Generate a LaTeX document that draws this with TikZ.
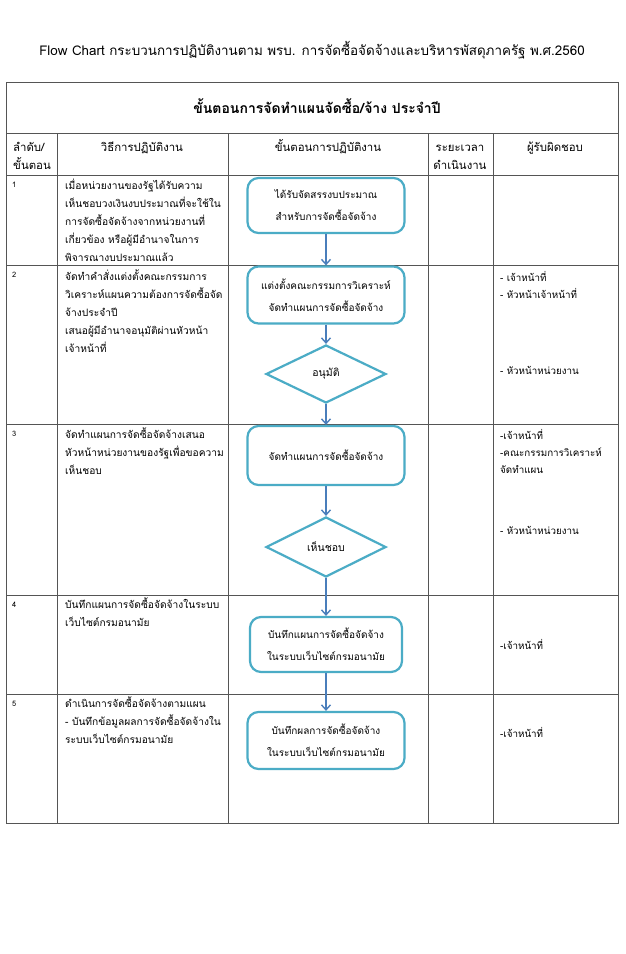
\documentclass[tikz,border=0pt]{standalone}
\usepackage{fontspec}
\newfontfamily\thai[Script=Thai]{Loma}
\usetikzlibrary{shapes.geometric,arrows.meta}
\definecolor{boxc}{HTML}{4BACC6}
\definecolor{arrc}{HTML}{4A7EBB}
\definecolor{gridc}{HTML}{555555}
\newcommand\tleft[1]{\begin{tabular}[t]{@{}l@{}}#1\end{tabular}}
\newcommand\tcent[1]{\begin{tabular}[t]{@{}c@{}}#1\end{tabular}}
\begin{document}
\begin{tikzpicture}[x=1pt,y=-1pt,
  tbl/.style={draw=gridc,line width=1},
  fbox/.style={draw=boxc,line width=2.2,rounded corners=11,minimum width=157,minimum height=56,align=center,inner sep=2,fill=white,font=\thai\fontsize{10}{22}\selectfont},
  fdia/.style={diamond,draw=boxc,line width=2.2,minimum width=120,minimum height=58,inner sep=0,fill=white,font=\thai\fontsize{10.5}{12}\selectfont},
  arr/.style={draw=arrc,line width=1.4,-{Straight Barb[length=5pt,width=9pt]}},
  cell/.style={anchor=base west,inner sep=0,font=\thai\fontsize{10.2}{18.2}\selectfont},
  resp/.style={anchor=base west,inner sep=0,font=\thai\fontsize{9.8}{17}\selectfont},
  hdrl/.style={anchor=base west,inner sep=0,font=\thai\fontsize{11.4}{18}\selectfont},
  hdr/.style={anchor=base,inner sep=0,font=\thai\fontsize{11.4}{18}\selectfont},
  num/.style={anchor=base west,inner sep=0,font=\thai\fontsize{7.5}{10}\selectfont}]
\fill[white] (0,0) rectangle (625,954);
\useasboundingbox (0,0) rectangle (625,954);
% title
\node[anchor=base,inner sep=0,font=\thai\fontsize{13.4}{16}\selectfont] (title) at (312,55) {Flow Chart กระบวนการปฏิบัติงานตาม พรบ. การจัดซื้อจัดจ้างและบริหารพัสดุภาครัฐ พ.ศ.2560};
% table
\draw[tbl] (6,82) rectangle (618,823);
\foreach \y in {133,175,265,424,595,694} \draw[tbl] (6,\y) -- (618,\y);
\foreach \x in {57,228,428,493} \draw[tbl] (\x,133) -- (\x,823);
\node[anchor=base,inner sep=0,font=\thai\bfseries\fontsize{14}{16}\selectfont] (head) at (317,113) {ขั้นตอนการจัดทำแผนจัดซื้อ/จ้าง ประจำปี};
% header row
\node[hdrl] (h1) at (13,151) {\tleft{ลำดับ/\\ขั้นตอน}};
\node[hdr] (h2) at (142,151) {วิธีการปฏิบัติงาน};
\node[hdr] (h3) at (328,151) {ขั้นตอนการปฏิบัติงาน};
\node[hdr] (h4) at (460,151) {\tcent{ระยะเวลา\\ดำเนินงาน}};
\node[hdr] (h5) at (555,151) {ผู้รับผิดชอบ};
% numbers
\node[num] (n1) at (12,187) {1};
\node[num] (n2) at (12,277) {2};
\node[num] (n3) at (12,436) {3};
\node[num] (n4) at (12,607) {4};
\node[num] (n5) at (12,706) {5};
% method column
\node[cell] (m1) at (65,189) {\tleft{เมื่อหน่วยงานของรัฐได้รับความ\\เห็นชอบวงเงินงบประมาณที่จะใช้ใน\\การจัดซื้อจัดจ้างจากหน่วยงานที่\\เกี่ยวข้อง หรือผู้มีอำนาจในการ\\พิจารณางบประมาณแล้ว}};
\node[cell] (m2) at (65,280) {\tleft{จัดทำคำสั่งแต่งตั้งคณะกรรมการ\\วิเคราะห์แผนความต้องการจัดซื้อจัด\\จ้างประจำปี\\เสนอผู้มีอำนาจอนุมัติผ่านหัวหน้า\\เจ้าหน้าที่}};
\node[cell] (m3) at (65,438) {\tleft{จัดทำแผนการจัดซื้อจัดจ้างเสนอ\\หัวหน้าหน่วยงานของรัฐเพื่อขอความ\\เห็นชอบ}};
\node[cell] (m4) at (65,608) {\tleft{บันทึกแผนการจัดซื้อจัดจ้างในระบบ\\เว็บไซต์กรมอนามัย}};
\node[cell] (m5) at (65,707) {\tleft{ดำเนินการจัดซื้อจัดจ้างตามแผน\\- บันทึกข้อมูลผลการจัดซื้อจัดจ้างใน\\ระบบเว็บไซต์กรมอนามัย}};
% responsible column
\node[resp] (r2a) at (500,281) {\tleft{- เจ้าหน้าที่\\- หัวหน้าเจ้าหน้าที่}};
\node[resp] (r2b) at (500,374) {- หัวหน้าหน่วยงาน};
\node[resp] (r3a) at (500,439) {\tleft{-เจ้าหน้าที่\\-คณะกรรมการวิเคราะห์\\จัดทำแผน}};
\node[resp] (r3b) at (500,534) {- หัวหน้าหน่วยงาน};
\node[resp] (r4) at (500,649) {-เจ้าหน้าที่};
\node[resp] (r5) at (500,737) {-เจ้าหน้าที่};
% flow
\node[fbox,minimum height=55] (b1) at (326,205.5) {ได้รับจัดสรรงบประมาณ\\สำหรับการจัดซื้อจัดจ้าง};
\node[fbox,minimum height=57] (b2) at (326,295) {แต่งตั้งคณะกรรมการวิเคราะห์\\จัดทำแผนการจัดซื้อจัดจ้าง};
\node[fdia] (d1) at (326,374) {อนุมัติ};
\node[fbox,minimum height=59] (b3) at (326,455.5) {จัดทำแผนการจัดซื้อจัดจ้าง};
\node[fdia,minimum height=60] (d2) at (326,547) {เห็นชอบ};
\node[fbox,minimum width=152,minimum height=55] (b4) at (326,644.5) {บันทึกแผนการจัดซื้อจัดจ้าง\\ในระบบเว็บไซต์กรมอนามัย};
\node[fbox,minimum height=57] (b5) at (326,740.5) {บันทึกผลการจัดซื้อจัดจ้าง\\ในระบบเว็บไซต์กรมอนามัย};
\draw[arr] (b1) -- (b2);
\draw[arr] (b2) -- (d1);
\draw[arr] (d1) -- (b3);
\draw[arr] (b3) -- (d2);
\draw[arr] (d2) -- (b4);
\draw[arr] (b4) -- (b5);
\end{tikzpicture}
\end{document}
